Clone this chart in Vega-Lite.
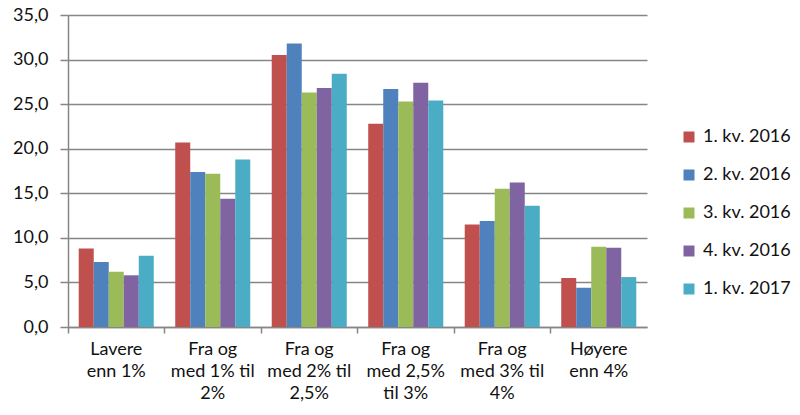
{
  "$schema": "https://vega.github.io/schema/vega-lite/v6.json",
  "autosize": "none",
  "width": 579,
  "height": 312,
  "padding": {"left": 68, "top": 15, "right": 153, "bottom": 88},
  "background": "white",
  "config": {
    "font": "Lato",
    "view": {"stroke": null},
    "axis": {"labelFont": "Lato", "labelColor": "#111111", "labelFontSize": 18, "domainColor": "#868686", "tickColor": "#868686", "gridColor": "#868686", "domainWidth": 1.5, "tickWidth": 1.5, "gridWidth": 1.5}
  },
  "data": {
    "values": [
      {"cat": "Lavere|enn 1%", "s": "1. kv. 2016", "v": 8.8},
      {"cat": "Lavere|enn 1%", "s": "2. kv. 2016", "v": 7.3},
      {"cat": "Lavere|enn 1%", "s": "3. kv. 2016", "v": 6.2},
      {"cat": "Lavere|enn 1%", "s": "4. kv. 2016", "v": 5.8},
      {"cat": "Lavere|enn 1%", "s": "1. kv. 2017", "v": 8.0},
      {"cat": "Fra og|med 1% til|2%", "s": "1. kv. 2016", "v": 20.7},
      {"cat": "Fra og|med 1% til|2%", "s": "2. kv. 2016", "v": 17.4},
      {"cat": "Fra og|med 1% til|2%", "s": "3. kv. 2016", "v": 17.2},
      {"cat": "Fra og|med 1% til|2%", "s": "4. kv. 2016", "v": 14.4},
      {"cat": "Fra og|med 1% til|2%", "s": "1. kv. 2017", "v": 18.8},
      {"cat": "Fra og|med 2% til|2,5%", "s": "1. kv. 2016", "v": 30.5},
      {"cat": "Fra og|med 2% til|2,5%", "s": "2. kv. 2016", "v": 31.8},
      {"cat": "Fra og|med 2% til|2,5%", "s": "3. kv. 2016", "v": 26.3},
      {"cat": "Fra og|med 2% til|2,5%", "s": "4. kv. 2016", "v": 26.8},
      {"cat": "Fra og|med 2% til|2,5%", "s": "1. kv. 2017", "v": 28.4},
      {"cat": "Fra og|med 2,5%|til 3%", "s": "1. kv. 2016", "v": 22.8},
      {"cat": "Fra og|med 2,5%|til 3%", "s": "2. kv. 2016", "v": 26.7},
      {"cat": "Fra og|med 2,5%|til 3%", "s": "3. kv. 2016", "v": 25.3},
      {"cat": "Fra og|med 2,5%|til 3%", "s": "4. kv. 2016", "v": 27.4},
      {"cat": "Fra og|med 2,5%|til 3%", "s": "1. kv. 2017", "v": 25.4},
      {"cat": "Fra og|med 3% til|4%", "s": "1. kv. 2016", "v": 11.5},
      {"cat": "Fra og|med 3% til|4%", "s": "2. kv. 2016", "v": 11.9},
      {"cat": "Fra og|med 3% til|4%", "s": "3. kv. 2016", "v": 15.5},
      {"cat": "Fra og|med 3% til|4%", "s": "4. kv. 2016", "v": 16.2},
      {"cat": "Fra og|med 3% til|4%", "s": "1. kv. 2017", "v": 13.6},
      {"cat": "Høyere|enn 4%", "s": "1. kv. 2016", "v": 5.5},
      {"cat": "Høyere|enn 4%", "s": "2. kv. 2016", "v": 4.4},
      {"cat": "Høyere|enn 4%", "s": "3. kv. 2016", "v": 9.0},
      {"cat": "Høyere|enn 4%", "s": "4. kv. 2016", "v": 8.9},
      {"cat": "Høyere|enn 4%", "s": "1. kv. 2017", "v": 5.6}
    ]
  },
  "mark": {"type": "bar"},
  "encoding": {
    "x": {
      "field": "cat", "type": "nominal", "sort": null, "title": null,
      "scale": {"paddingInner": 0, "paddingOuter": 0},
      "axis": {"labelAngle": 0, "labelExpr": "split(datum.label, '|')", "labelLineHeight": 22, "labelPadding": 7, "tickSize": 6, "bandPosition": 0, "grid": false, "labelBaseline": "top"}
    },
    "xOffset": {
      "field": "s", "type": "nominal", "sort": ["1. kv. 2016", "2. kv. 2016", "3. kv. 2016", "4. kv. 2016", "1. kv. 2017"],
      "scale": {"paddingInner": 0, "paddingOuter": 0.715}
    },
    "y": {
      "field": "v", "type": "quantitative", "title": null,
      "scale": {"domain": [0, 35], "nice": false},
      "axis": {"values": [0, 5, 10, 15, 20, 25, 30, 35], "labelExpr": "replace(format(datum.value, '.1f'), '.', ',')", "tickSize": 8, "labelPadding": 12, "grid": true}
    },
    "color": {
      "field": "s", "type": "nominal", "title": null,
      "sort": ["1. kv. 2016", "2. kv. 2016", "3. kv. 2016", "4. kv. 2016", "1. kv. 2017"],
      "scale": {"domain": ["1. kv. 2016", "2. kv. 2016", "3. kv. 2016", "4. kv. 2016", "1. kv. 2017"], "range": ["#C0504D", "#4F81BD", "#9BBB59", "#8064A2", "#4BACC6"]},
      "legend": {"orient": "none", "legendX": 612, "legendY": 113, "symbolType": "square", "symbolSize": 121, "symbolStrokeWidth": 0, "labelFontSize": 18, "labelFont": "Lato", "labelColor": "#111111", "rowPadding": 20, "padding": 0, "labelOffset": 5, "symbolOffset": 0, "direction": "vertical"}
    }
  }
}
